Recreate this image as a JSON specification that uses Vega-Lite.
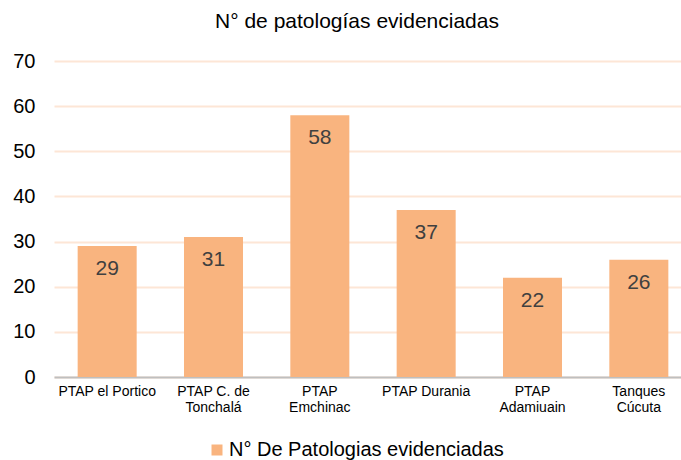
{
  "$schema": "https://vega.github.io/schema/vega-lite/v6.json",
  "width": 638,
  "height": 316,
  "autosize": "none",
  "padding": {"left": 54, "top": 61, "right": 0, "bottom": 83},
  "background": "white",
  "config": {
    "font": "Liberation Sans",
    "view": {"stroke": null}
  },
  "title": {
    "text": "N° de patologías evidenciadas",
    "fontSize": 21,
    "fontWeight": "normal",
    "color": "#000000",
    "anchor": "middle",
    "dx": -16,
    "offset": 19
  },
  "data": {
    "values": [
      {"planta": "PTAP el Portico", "n": 29, "serie": "N° De Patologias evidenciadas"},
      {"planta": "PTAP C. de Tonchalá", "n": 31, "serie": "N° De Patologias evidenciadas"},
      {"planta": "PTAP Emchinac", "n": 58, "serie": "N° De Patologias evidenciadas"},
      {"planta": "PTAP Durania", "n": 37, "serie": "N° De Patologias evidenciadas"},
      {"planta": "PTAP Adamiuain", "n": 22, "serie": "N° De Patologias evidenciadas"},
      {"planta": "Tanques Cúcuta", "n": 26, "serie": "N° De Patologias evidenciadas"}
    ]
  },
  "encoding": {
    "x": {
      "field": "planta",
      "type": "nominal",
      "sort": null,
      "scale": {"paddingInner": 0.445, "paddingOuter": 0.2225},
      "axis": {
        "title": null,
        "labelAngle": 0,
        "labelFontSize": 14,
        "labelColor": "#000000",
        "labelPadding": 7,
        "labelLineHeight": 16,
        "labelBaseline": "top",
        "ticks": false,
        "domainColor": "#bfbfbf",
        "domainWidth": 2,
        "labelExpr": "datum.value == 'PTAP C. de Tonchalá' ? ['PTAP C. de', 'Tonchalá'] : datum.value == 'PTAP Emchinac' ? ['PTAP', 'Emchinac'] : datum.value == 'PTAP Adamiuain' ? ['PTAP', 'Adamiuain'] : datum.value == 'Tanques Cúcuta' ? ['Tanques', 'Cúcuta'] : datum.value"
      }
    },
    "y": {
      "field": "n",
      "type": "quantitative",
      "scale": {"domain": [0, 70]},
      "axis": {
        "title": null,
        "values": [0, 10, 20, 30, 40, 50, 60, 70],
        "labelFontSize": 20,
        "labelColor": "#000000",
        "labelPadding": 19,
        "ticks": false,
        "domain": false,
        "gridColor": "#fde6d6",
        "gridWidth": 2
      }
    }
  },
  "layer": [
    {
      "mark": {"type": "bar", "color": "#f9b47f"},
      "encoding": {
        "color": {
          "field": "serie",
          "type": "nominal",
          "scale": {"range": ["#f9b47f"]},
          "legend": {
            "title": null,
            "orient": "none",
            "legendX": 153,
            "legendY": 379,
            "direction": "horizontal",
            "symbolType": "square",
            "symbolSize": 121,
            "symbolStrokeWidth": 0,
            "symbolOffset": 0,
            "labelOffset": 2,
            "labelFontSize": 20,
            "labelColor": "#000000",
            "labelLimit": 400,
            "padding": 0
          }
        }
      }
    },
    {
      "mark": {"type": "text", "fontSize": 21, "color": "#404040", "baseline": "middle", "dy": 23},
      "encoding": {
        "text": {"field": "n", "type": "quantitative"}
      }
    }
  ]
}
